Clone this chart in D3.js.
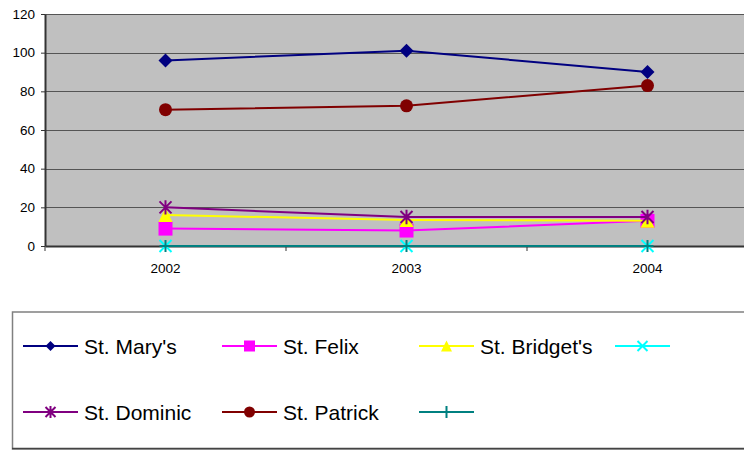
<!DOCTYPE html>
<html><head><meta charset="utf-8">
<script src="https://cdn.jsdelivr.net/npm/d3@7"></script>
<style>body{margin:0;background:#fff;}svg{display:block;font-family:"Liberation Sans",Arial,sans-serif;}</style>
</head><body>
<svg id="c" width="744" height="455"></svg>
<script>
const years = ["2002", "2003", "2004"];
const seriesNames = ["St. Mary's", "St. Felix", "St. Bridget's", "", "St. Dominic", "St. Patrick", ""];
const stMarys = [96, 101, 90];
const stFelix = [9, 8, 13];
const stBridgets = [16, 13.5, 13];
const unnamedCyan = [0, 0, 0];
const stDominic = [20, 15, 15];
const stPatrick = [70.5, 72.5, 83];
const unnamedTeal = [0, 0, 0];
const yTicks = [0, 20, 40, 60, 80, 100, 120];

const seriesValues = [stMarys, stFelix, stBridgets, unnamedCyan, stDominic, stPatrick, unnamedTeal];
const colors = ["#000080", "#FF00FF", "#FFFF00", "#00FFFF", "#800080", "#800000", "#008080"];
const markers = ["diamond", "square", "triangle", "x", "star", "circle", "plus"];

const svg = d3.select("#c");
const pLeft = 45, pRight = 768, pTop = 14, pBottom = 246;
const x = d3.scaleBand().domain(years).range([pLeft, pRight]).paddingInner(0).paddingOuter(0);
const y = d3.scaleLinear().domain([0, 120]).range([pBottom, pTop]);

// plot area
svg.append("rect").attr("x", pLeft).attr("y", pTop).attr("width", pRight - pLeft).attr("height", pBottom - pTop).attr("fill", "#C0C0C0");
// gridlines
svg.append("g").selectAll("line").data(yTicks.filter(d => d > 0)).join("line")
  .attr("x1", pLeft).attr("x2", pRight).attr("y1", d => Math.round(y(d)) + 0.5).attr("y2", d => Math.round(y(d)) + 0.5)
  .attr("stroke", "#555").attr("stroke-width", 1);

// y axis
const yAxis = svg.append("g").attr("transform", `translate(${pLeft},0)`)
  .call(d3.axisLeft(y).tickValues(yTicks).tickSize(4).tickPadding(6).tickSizeOuter(0));
yAxis.select(".domain").attr("stroke", "#333").attr("stroke-width", 2);
yAxis.selectAll(".tick line").attr("stroke", "#333");
yAxis.selectAll("text").attr("font-size", "13.5px").attr("fill", "#000").attr("font-family", "Liberation Sans, Arial, sans-serif");

// x axis
const xAxis = svg.append("g").attr("transform", `translate(0,${pBottom})`)
  .call(d3.axisBottom(x).tickSize(0).tickPadding(17).tickSizeOuter(0));
xAxis.select(".domain").attr("stroke", "#333").attr("stroke-width", 2);
xAxis.selectAll("text").attr("font-size", "13.5px").attr("fill", "#000").attr("font-family", "Liberation Sans, Arial, sans-serif");
// category boundary ticks
svg.append("g").selectAll("line").data(years).join("line")
  .attr("x1", d => x(d)).attr("x2", d => x(d)).attr("y1", pBottom).attr("y2", pBottom + 5)
  .attr("stroke", "#333").attr("stroke-width", 1);

function drawMarker(g, type, color, s) {
  if (type === "diamond") {
    g.append("path").attr("d", `M0,${-s}L${s},0L0,${s}L${-s},0Z`).attr("fill", color);
  } else if (type === "square") {
    g.append("rect").attr("x", -s).attr("y", -s).attr("width", 2 * s).attr("height", 2 * s).attr("fill", color);
  } else if (type === "triangle") {
    g.append("path").attr("d", `M0,${-s}L${s},${s}L${-s},${s}Z`).attr("fill", color);
  } else if (type === "circle") {
    g.append("circle").attr("r", s).attr("fill", color);
  } else if (type === "x") {
    g.append("path").attr("d", `M${-s},${-s}L${s},${s}M${-s},${s}L${s},${-s}`).attr("stroke", color).attr("stroke-width", 2).attr("fill", "none");
  } else if (type === "star") {
    g.append("path").attr("d", `M${-s},${-s}L${s},${s}M${-s},${s}L${s},${-s}M0,${-s * 1.2}L0,${s * 1.2}`).attr("stroke", color).attr("stroke-width", 2).attr("fill", "none");
  } else if (type === "plus") {
    g.append("path").attr("d", `M${-s},0L${s},0M0,${-s}L0,${s}`).attr("stroke", color).attr("stroke-width", 2).attr("fill", "none");
  }
}

const plotSizes = {diamond: 7, square: 7, triangle: 7, circle: 6.5, x: 6, star: 6, plus: 6};
const line = d3.line().x((d, i) => x(years[i]) + x.bandwidth() / 2).y(d => y(d));

seriesValues.forEach((vals, si) => {
  const g = svg.append("g");
  g.append("path").datum(vals).attr("d", line).attr("fill", "none").attr("stroke", colors[si]).attr("stroke-width", 2);
  vals.forEach((v, i) => {
    const m = g.append("g").attr("transform", `translate(${x(years[i]) + x.bandwidth() / 2},${y(v)})`);
    drawMarker(m, markers[si], colors[si], plotSizes[markers[si]]);
  });
});

// legend
svg.append("rect").attr("x", 12.5).attr("y", 312).attr("width", 760).attr("height", 137)
  .attr("fill", "#fff").attr("stroke", "#808080").attr("stroke-width", 1.5);
svg.append("line").attr("x1", 12).attr("x2", 744).attr("y1", 448.5).attr("y2", 448.5).attr("stroke", "#444").attr("stroke-width", 1.5);
const legSizes = {diamond: 5, square: 5.5, triangle: 5.5, circle: 5.5, x: 5, star: 5, plus: 6};
const colX = [23, 222, 419, 615];
const rowY = [346, 412];
seriesNames.forEach((name, i) => {
  const cx = colX[i % 4], cy = rowY[Math.floor(i / 4)];
  const g = svg.append("g").attr("transform", `translate(${cx},${cy})`);
  g.append("line").attr("x1", 0).attr("x2", 55).attr("y1", 0).attr("y2", 0).attr("stroke", colors[i]).attr("stroke-width", 2);
  const m = g.append("g").attr("transform", "translate(27.5,0)");
  drawMarker(m, markers[i], colors[i], legSizes[markers[i]]);
  g.append("text").attr("x", 61).attr("y", 0).attr("dy", "0.36em").attr("font-size", "21px").attr("fill", "#000").text(name);
});
</script>
</body></html>
